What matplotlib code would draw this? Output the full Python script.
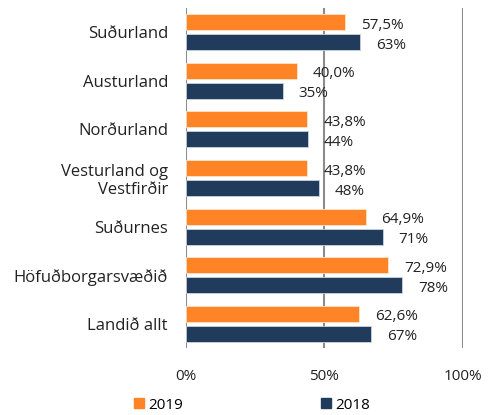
import matplotlib.pyplot as plt
import matplotlib.patches as mpatches
import numpy as np

plt.rcParams['font.family'] = ['Open Sans', 'DejaVu Sans']

# data, top to bottom
regions = ["Suðurland", "Austurland", "Norðurland", "Vesturland og\nVestfirðir",
           "Suðurnes", "Höfuðborgarsvæðið", "Landið allt"]
v2019 = [57.5, 40.0, 43.8, 43.8, 64.9, 72.9, 62.6]
v2018 = [63, 35, 44, 48, 71, 78, 67]
lab2019 = ["57,5%", "40,0%", "43,8%", "43,8%", "64,9%", "72,9%", "62,6%"]
lab2018 = ["63%", "35%", "44%", "48%", "71%", "78%", "67%"]

c2019 = "#FF8426"
c2018 = "#203B5B"

fig = plt.figure(figsize=(4.96, 4.15), dpi=100)
ax = fig.add_axes([0.375, 0.161, 0.558, 0.820])

y = np.arange(len(regions))
h = 0.33
off = 0.206

ax.barh(y - off, v2019, height=h, color=c2019, edgecolor="#FFE3CC", linewidth=0.6, zorder=3)
ax.barh(y + off, v2018, height=h, color=c2018, edgecolor="#C9D3DE", linewidth=0.6, zorder=3)

fs = 11
for i in range(len(regions)):
    ax.annotate(lab2019[i], (v2019[i], y[i] - off), xytext=(16, -3), textcoords="offset pixels",
                ha="left", va="center", fontsize=fs, color="#222222")
    ax.annotate(lab2018[i], (v2018[i], y[i] + off), xytext=(16, -3), textcoords="offset pixels",
                ha="left", va="center", fontsize=fs, color="#222222")

ax.set_xlim(0, 100)
ax.set_ylim(len(regions) - 0.5, -0.5)
ax.set_xticks([0, 50, 100])
ax.set_xticklabels(["0%", "50%", "100%"])
ax.set_yticks(y)
ax.set_yticklabels(regions, fontsize=12, linespacing=1.15)
ax.tick_params(axis="both", length=0, colors="#222222")
ax.tick_params(axis="x", pad=15, labelsize=fs)
ax.tick_params(axis="y", pad=13)
for lbl in ax.get_yticklabels():
    lbl.set_multialignment("right")

for s in ax.spines.values():
    s.set_visible(False)
ax.xaxis.grid(True, color="#8C8C8C", linewidth=1.5, zorder=0)

handles = [mpatches.Patch(color=c2019, label="2019"), mpatches.Patch(color=c2018, label="2018")]
fig.legend(handles=handles, loc="center", bbox_to_anchor=(0.508, 0.024), ncol=2, frameon=False,
           fontsize=fs, handlelength=0.65, handleheight=0.65, handletextpad=0.3, columnspacing=9.0)

fig.savefig("out.png", dpi=100)
